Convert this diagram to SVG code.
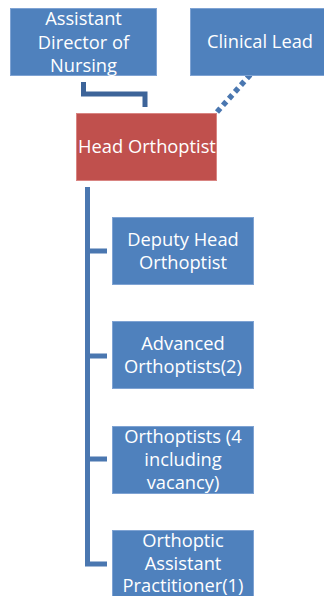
<svg xmlns="http://www.w3.org/2000/svg" width="324" height="596" viewBox="0 0 324 596">
<style>
.box{fill:#4F81BD;stroke:#7FA3D3;stroke-width:1}
.red{fill:#C0504D;stroke:#D98582;stroke-width:1}
text{font-family:"Open Sans","Liberation Sans",sans-serif;font-size:18.3px;fill:#FFFFFF;text-anchor:middle}
.ln{fill:none;stroke:#4A77B0;stroke-width:5}
</style>
<rect width="324" height="596" fill="#FFFFFF"/>
<g id="connectors">
<path class="ln" d="M83.5,82 V94 H145 V107" style="stroke:#3D6499"/>
<path d="M217,112 L258,66" fill="none" stroke="#4A77B0" stroke-width="5.5" stroke-dasharray="5,4"/>
<path class="ln" d="M87.5,187 V564 H107"/>
<path class="ln" d="M87.5,251 H107 M87.5,356 H107 M87.5,459 H107"/>
</g>
<g id="ad">
<rect class="box" x="10.5" y="8.5" width="146" height="67"/>
<text x="83.5" y="25">Assistant</text>
<text x="83.5" y="48.5">Director of</text>
<text x="83.5" y="72">Nursing</text>
</g>
<g id="clinical">
<rect class="box" x="190.5" y="8.5" width="140" height="67"/>
<text x="260" y="48">Clinical Lead</text>
</g>
<g id="head">
<rect class="red" x="76.5" y="113.5" width="140" height="67"/>
<text x="147" y="153">Head Orthoptist</text>
</g>
<g id="deputy">
<rect class="box" x="112.5" y="217.5" width="141" height="67"/>
<text x="183" y="246">Deputy Head</text>
<text x="183" y="269">Orthoptist</text>
</g>
<g id="advanced">
<rect class="box" x="112.5" y="321.5" width="141" height="67"/>
<text x="183" y="350">Advanced</text>
<text x="183" y="373">Orthoptists(2)</text>
</g>
<g id="orthoptists">
<rect class="box" x="112.5" y="426.5" width="141" height="67"/>
<text x="183" y="443">Orthoptists (4</text>
<text x="183" y="466">including</text>
<text x="183" y="489">vacancy)</text>
</g>
<g id="assistant">
<rect class="box" x="112.5" y="530.5" width="141" height="70"/>
<text x="183" y="547">Orthoptic</text>
<text x="183" y="570">Assistant</text>
<text x="183" y="592">Practitioner(1)</text>
</g>
</svg>
